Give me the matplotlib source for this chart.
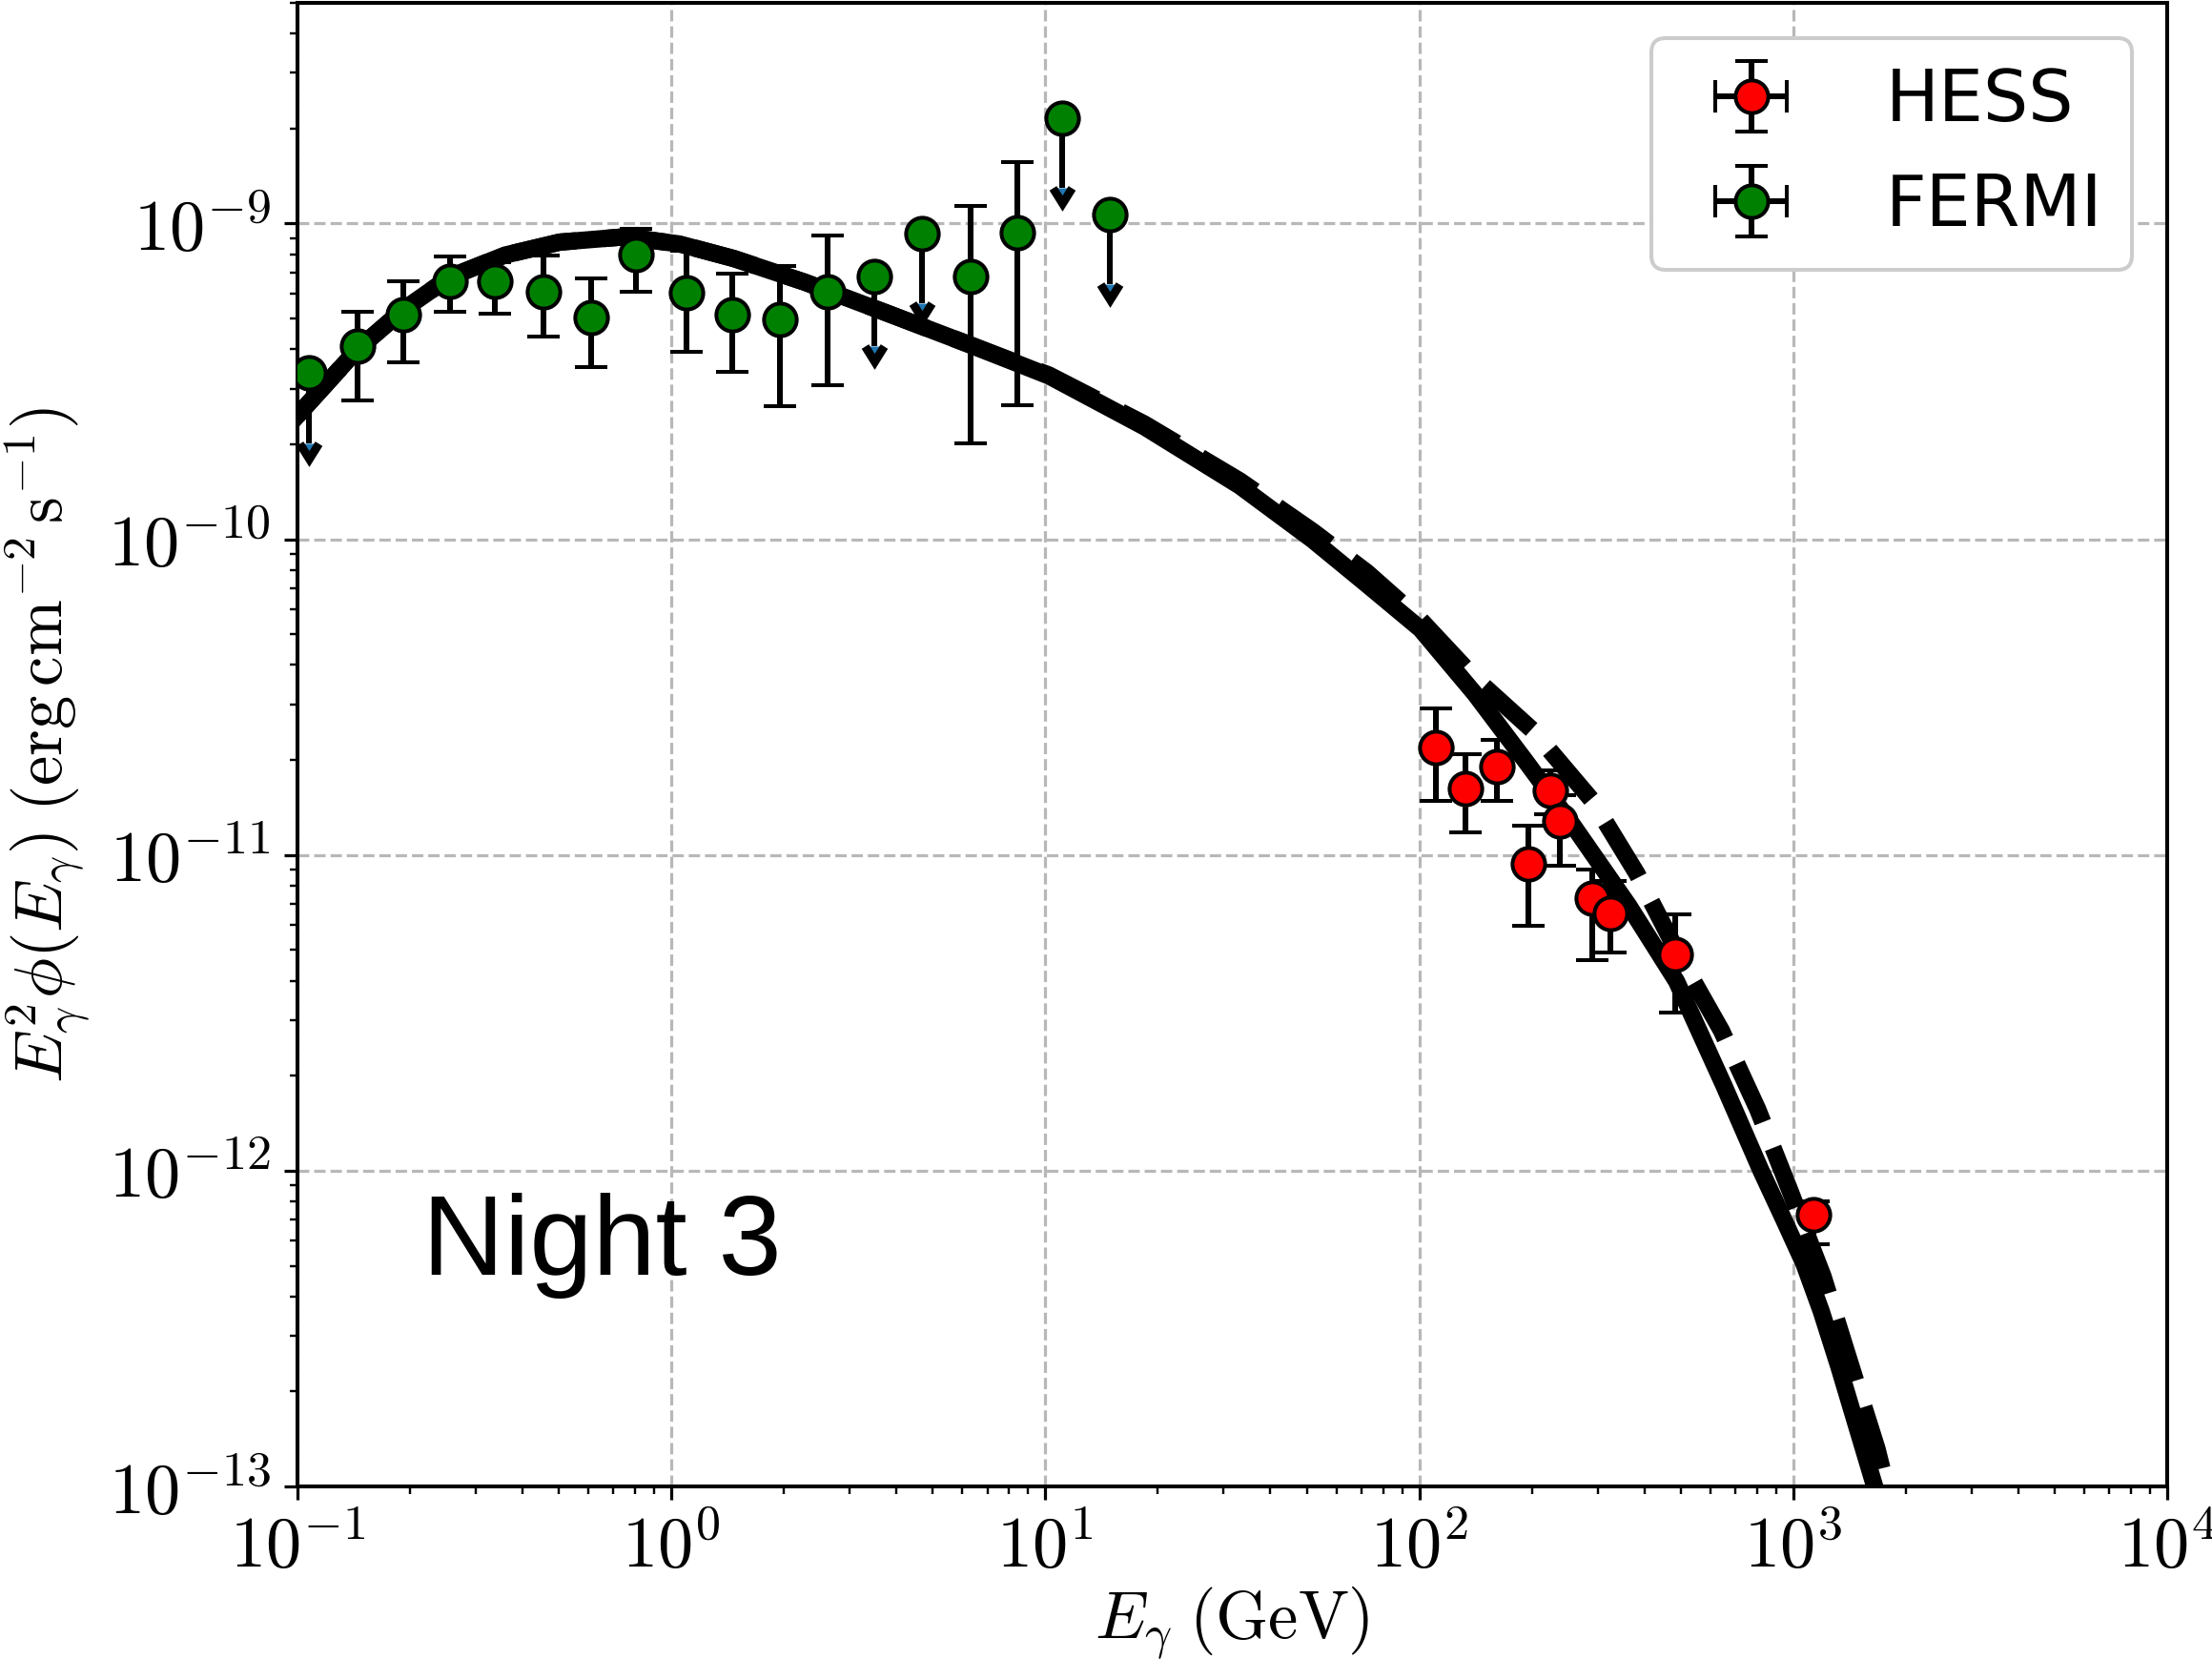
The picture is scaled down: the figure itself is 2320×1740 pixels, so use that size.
import numpy as np
import matplotlib
matplotlib.use('Agg')
import matplotlib.pyplot as plt
from matplotlib.ticker import FuncFormatter, NullFormatter

plt.rcParams['mathtext.fontset'] = 'cm'

# model curves, log10(E/GeV) vs log10(E^2 phi)
solid_logE = [-1.0, -0.84, -0.716, -0.591, -0.445, -0.299, -0.123, 0.022, 0.167,
              0.357, 0.577, 0.796, 1.010, 1.265, 1.520, 1.715, 1.860, 2.003, 2.149,
              2.287, 2.412, 2.466, 2.560, 2.688, 2.815, 2.914, 2.975, 3.029, 3.075, 3.122, 3.170, 3.218, 3.245]
solid_logF = [-9.608, -9.399, -9.272, -9.169, -9.100, -9.059, -9.042, -9.065, -9.111,
              -9.186, -9.284, -9.383, -9.483, -9.644, -9.831, -10.002, -10.143, -10.284, -10.490,
              -10.707, -10.908, -11.000, -11.160, -11.400, -11.731, -12.000, -12.155, -12.295, -12.445,
              -12.620, -12.810, -13.0, -13.1]
dashed_logE = [-1.0, -0.84, -0.716, -0.591, -0.445, -0.299, -0.123, 0.022, 0.167,
               0.357, 0.577, 0.796, 1.010, 1.265, 1.520, 1.715, 1.860, 2.003, 2.149,
               2.304, 2.463, 2.582, 2.701, 2.808, 2.905, 2.991, 3.080, 3.147, 3.224, 3.26]
dashed_logF = [-9.608, -9.399, -9.272, -9.169, -9.100, -9.059, -9.042, -9.065, -9.111,
               -9.186, -9.284, -9.383, -9.480, -9.635, -9.815, -9.975, -10.105, -10.255, -10.440,
               -10.606, -10.828, -11.059, -11.332, -11.556, -11.805, -12.062, -12.335, -12.590, -12.880, -13.05]

# FERMI detections
fermi_E = [0.1445, 0.192, 0.256, 0.338, 0.454, 0.611, 0.805, 1.097, 1.454, 1.955, 2.61, 6.30, 8.40]
fermi_F = [4.10e-10, 5.14e-10, 6.58e-10, 6.58e-10, 6.10e-10, 5.04e-10, 7.96e-10, 6.03e-10,
           5.14e-10, 4.96e-10, 6.10e-10, 6.80e-10, 9.33e-10]
fermi_hi = [5.25e-10, 6.56e-10, 7.86e-10, 7.55e-10, 7.90e-10, 6.70e-10, 9.60e-10, 8.17e-10,
            6.93e-10, 7.31e-10, 9.15e-10, 1.14e-9, 1.57e-9]
fermi_lo = [2.75e-10, 3.64e-10, 5.25e-10, 5.18e-10, 4.38e-10, 3.50e-10, 6.10e-10, 3.91e-10,
            3.38e-10, 2.64e-10, 3.07e-10, 2.01e-10, 2.66e-10]

# FERMI upper limits
fermi_ul_E = [0.107, 3.48, 4.69, 11.1, 14.9]
fermi_ul_F = [3.36e-10, 6.80e-10, 9.30e-10, 2.16e-9, 1.07e-9]

# HESS
hess_E = [111, 133, 161, 196, 224, 238, 291, 325, 484, 1132]
hess_F = [2.19e-11, 1.62e-11, 1.91e-11, 9.35e-12, 1.60e-11, 1.28e-11, 7.30e-12, 6.53e-12, 4.85e-12, 7.28e-13]
hess_hi = [2.91e-11, 2.09e-11, 2.32e-11, 1.24e-11, 1.85e-11, 1.55e-11, 9.0e-12, 8.27e-12, 6.50e-12, 8.0e-13]
hess_lo = [1.48e-11, 1.18e-11, 1.48e-11, 5.95e-12, 1.35e-11, 9.25e-12, 4.66e-12, 4.92e-12, 3.17e-12, 5.85e-13]


def asym_err(val, lo, hi):
    val = np.array(val)
    return [val - np.array(lo), np.array(hi) - val]


fig = plt.figure(figsize=(8, 6), dpi=290)
ax = fig.add_axes([0.1345, 0.104, 0.8452, 0.8943])

ax.plot(10 ** np.array(dashed_logE), 10 ** np.array(dashed_logF), color='black', lw=4.5, ls='--', zorder=3)
ax.plot(10 ** np.array(solid_logE), 10 ** np.array(solid_logF), color='black', lw=4.5, zorder=3)

ebkw = dict(fmt='o', ms=8.5, mec='black', mew=1.0, ecolor='black',
            elinewidth=1.5, capthick=1.0, capsize=4.2, zorder=4)

hess = ax.errorbar(hess_E, hess_F, xerr=0, yerr=asym_err(hess_F, hess_lo, hess_hi),
                   mfc='red', label='HESS', **ebkw)
fermi = ax.errorbar(fermi_E, fermi_F, xerr=0, yerr=asym_err(fermi_F, fermi_lo, fermi_hi),
                    mfc='green', label='FERMI', **ebkw)

# upper limits: downward arrows + markers
ax.errorbar(fermi_ul_E, fermi_ul_F, yerr=0.4 * np.array(fermi_ul_F), uplims=True, fmt='none',
            ecolor='black', elinewidth=1.5, capsize=2.6, capthick=2.2, zorder=4)
ax.plot(fermi_ul_E, fermi_ul_F, 'o', ms=8.5, mfc='green', mec='black', mew=1.0, zorder=4.2)

ax.set_xscale('log')
ax.set_yscale('log')
ax.set_xlim(1e-1, 1e4)
ax.set_ylim(1e-13, 5.0e-9)

fmt = FuncFormatter(lambda v, _: r'$10^{%d}$' % int(round(np.log10(v))))
ax.xaxis.set_major_formatter(fmt)
ax.yaxis.set_major_formatter(fmt)
ax.xaxis.set_minor_formatter(NullFormatter())
ax.yaxis.set_minor_formatter(NullFormatter())
ax.tick_params(labelsize=18.5)

ax.grid(True, which='major', ls='--', color='0.72', lw=0.8)
ax.set_axisbelow(True)
for s in ax.spines.values():
    s.set_linewidth(1.0)

ax.set_xlabel(r'$E_\gamma\;(\mathrm{GeV})$', fontsize=17.5, labelpad=0.5)
ax.set_ylabel(r'$E_\gamma^2\phi(E_\gamma)\;(\mathrm{erg\,cm^{-2}\,s^{-1}})$', fontsize=17.5, labelpad=4)

ax.legend(handles=[hess, fermi], loc='upper right', fontsize=18.5, handletextpad=0.9,
          edgecolor='0.8', framealpha=1.0)

ax.text(0.067, 0.143, 'Night 3', transform=ax.transAxes, fontsize=29.5,
        family=['Liberation Sans', 'DejaVu Sans'], va='baseline', ha='left')

fig.savefig('out.png', dpi=290)
